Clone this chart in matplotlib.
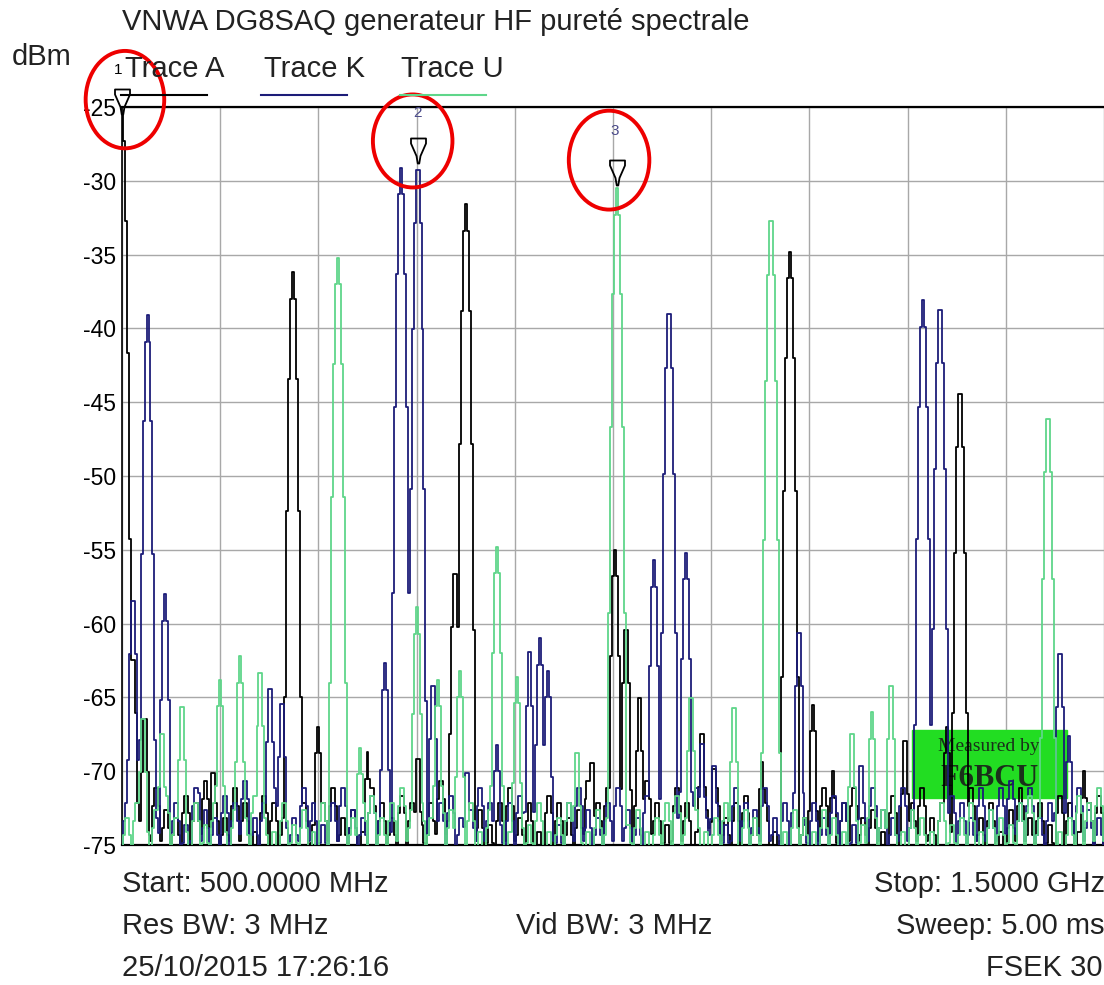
# -*- coding: utf-8 -*-
#
# VNWA DG8SAQ - spectral purity of the HF generator
# spectrum analyser screen (FSEK 30), 500 MHz - 1.5 GHz
###################################################

import numpy as np
import matplotlib
matplotlib.use('Agg')
import matplotlib.pyplot as plt
from matplotlib.path import Path
from matplotlib.patches import Ellipse, Rectangle

plt.rcParams['font.family'] = ['Liberation Sans', 'DejaVu Sans']

ftsize = 21

# tones seen on each trace: frequency (MHz), level (dBm)
freq_A = [500, 511, 523, 593, 674, 700, 750, 801, 839, 850, 979, 1002, 1013, 1027,
          1091, 1103, 1152, 1180, 1204, 1224, 1297, 1340, 1353, 1480]
level_A = [-25.5, -62, -66, -69.7, -36.2, -67, -68.7, -68.7, -56.2, -31.6, -69, -55, -60, -64.6,
           -67, -69.4, -69.4, -34.8, -65.5, -70, -67.5, -67, -44, -70]

freq_K = [511, 526, 544, 577, 651, 663, 768, 784, 801, 817, 851, 882, 915, 926, 934,
          1042, 1057, 1074, 1091, 1103, 1189, 1253, 1316, 1333, 1455, 1464]
level_K = [-58, -39.1, -58, -71, -64, -65, -62.7, -29.1, -28.8, -63.8, -69.7, -68.2, -61.5, -61, -63.2,
           -55.7, -38.6, -55.2, -67.7, -69.2, -60.2, -69.2, -38.1, -38.3, -61.6, -67.6]

freq_U = [521, 541, 561, 600, 620, 641, 720, 742, 800, 822, 844, 882, 902, 963,
          1004, 1079, 1123, 1161, 1243, 1264, 1283, 1443]
level_U = [-66, -67, -65.2, -63.8, -62.2, -62.9, -35.2, -68.4, -58.9, -63.8, -63.2, -54.8, -63.6, -68.3,
           -30.5, -64.6, -65.3, -32.3, -67, -66, -63.8, -45.7]

# noise floor read every 10 MHz (505 ... 1495 MHz)
floor_freq = list(range(505, 1500, 10))
floor_A = [-70, -72, -73, -71, -72.5, -73, -71.5, -72, -70.5, -72,
           -73, -71, -72, -74, -71.5, -72, -73, -70.5, -72, -73.5,
           -72, -71, -73, -72.5, -74, -71, -72, -73, -71.5, -72,
           -73.5, -72, -70.5, -72, -73, -71, -72.5, -73.5, -72, -71,
           -73, -72, -74, -71.5, -72, -73, -72.5, -70.5, -72, -71,
           -72, -73, -71, -70.5, -72, -73.5, -71, -72, -74, -72.5,
           -71, -73, -72, -71.5, -73, -72, -74, -71, -72.5, -73,
           -72, -71, -73.5, -72, -71, -73, -72.5, -74, -71.5, -73,
           -72, -71, -73, -72, -74, -72.5, -71, -73, -72, -74,
           -72.5, -71, -73, -72, -73.5, -71.5, -72, -74, -72, -71.5]
floor_K = [-72, -70.5, -72, -73, -71, -72, -73.5, -71, -72.5, -73,
           -71.5, -72, -70.5, -73, -72, -71, -72.5, -73, -71, -72,
           -73.5, -72, -71, -72.5, -73, -71.5, -72, -74, -71, -72.5,
           -71, -73, -72, -71.5, -73, -72.5, -71, -72, -73.5, -72,
           -71.5, -73, -72, -71, -73.5, -72, -71, -72.5, -73, -72,
           -71, -72.5, -73, -71.5, -72, -71, -73, -72.5, -71, -73,
           -72, -73.5, -71, -72, -72.5, -71, -73, -72, -71.5, -73.5,
           -72, -73, -71.5, -72, -73.5, -72, -71, -72.5, -73, -71,
           -72.5, -71, -72, -73, -71.5, -72, -73, -71, -72.5, -71,
           -70.5, -72, -71, -73, -72, -71.5, -72, -71, -72.5, -73]
floor_U = [-73, -72, -74, -72.5, -71.5, -73, -74, -72, -73.5, -72,
           -74, -72.5, -73, -71.5, -73, -74, -72, -73.5, -72.5, -74,
           -72, -71.5, -72.5, -73, -72, -71.5, -73, -72, -71, -72.5,
           -72, -73, -71.5, -72.5, -73, -72, -74, -72.5, -73, -74,
           -72.5, -73.5, -72, -74, -73, -72, -73.5, -74, -72.5, -73,
           -72, -73.5, -72.5, -74, -73, -72, -71.5, -73, -72.5, -74,
           -73, -72, -74, -72.5, -73, -71.5, -73, -74, -72.5, -73,
           -74, -72.5, -73, -74, -72, -73.5, -74, -72.5, -73, -74,
           -72.5, -73, -74, -72, -73.5, -73, -72, -74, -72.5, -73,
           -73.5, -72, -71.5, -73, -72.5, -74, -73, -71.5, -72, -71]

# markers: frequency, level, label and label position
mark_freq = [500, 801, 1004]
mark_level = [-25.5, -28.8, -30.3]
mark_label = ['1', '2', '3']
label_freq = [496, 801, 1002]
label_level = [-22.5, -25.4, -26.6]

colA = '#000000'
colK = '#1c1c78'
colU = '#5fd68a'

# analyser sweep points, 3 MHz RBW filter shape (in dB)
f = np.linspace(500, 1500, 501)


def trace(tf, tl, fl):
    y = np.full(f.shape, -76.0)
    for f0, l0 in zip(floor_freq, fl):
        y = np.maximum(y, l0 - 0.15 * (f - f0) ** 2)
    for f0, l0 in zip(tf, tl):
        y = np.maximum(y, l0 - 0.45 * (f - f0) ** 2)
    return y


W, H = 1104, 985
fig = plt.figure(figsize=(W / 100, H / 100), dpi=100)
ax = fig.add_axes([122 / W, 1 - 845 / H, 1 - 122 / W, (845 - 107) / H])

ax.plot(f, trace(freq_A, level_A, floor_A), color=colA, lw=1.3, drawstyle='steps-mid', zorder=3)
ax.plot(f, trace(freq_K, level_K, floor_K), color=colK, lw=1.3, drawstyle='steps-mid', zorder=4)
ax.plot(f, trace(freq_U, level_U, floor_U), color=colU, lw=1.3, drawstyle='steps-mid', zorder=5)

ax.set_xlim(500, 1500)
ax.set_ylim(-75, -25)
ax.set_xticks(np.arange(500, 1501, 100))
ax.set_yticks(np.arange(-75, -24, 5))
ax.set_xticklabels([])
ax.set_yticklabels([str(v) for v in range(-75, -24, 5)], fontsize=16.5)
ax.tick_params(length=0, pad=4)
ax.grid(True, color='#a8a8a8', lw=1)
ax.set_axisbelow(True)
for s in ['top', 'bottom']:
    ax.spines[s].set_linewidth(1.6)
ax.spines['left'].set_linewidth(1.2)
ax.spines['right'].set_visible(False)

# green "measured by" box
ax.add_patch(Rectangle((1304, -71.8), 158, 4.6, color='#22dd22', zorder=2))
ax.text(1383, -68.3, 'Measured by', ha='center', va='center', fontsize=14,
        family='Liberation Serif', color='#1a301a', zorder=2)
ax.text(1383, -70.5, 'F6BCU', ha='center', va='center', fontsize=22, fontweight='bold',
        family='Liberation Serif', color='#1a301a', zorder=2)

# marker symbols (tip on the trace)
funnel = Path([(-0.3, 1), (0.3, 1), (0.3, 0.8), (0.08, 0.3), (0.03, 0), (-0.03, 0),
               (-0.08, 0.3), (-0.3, 0.8), (-0.3, 1)],
              [Path.MOVETO] + [Path.LINETO] * 7 + [Path.CLOSEPOLY])
for mf, ml, lab, lf, ll in zip(mark_freq, mark_level, mark_label, label_freq, label_level):
    ax.plot(mf, ml, marker=funnel, markersize=36, markerfacecolor='none',
            markeredgecolor='black', markeredgewidth=1.3, clip_on=False, zorder=6)
    c = 'black' if lab == '1' else '#4a4a8a'
    ax.text(lf, ll, lab, ha='center', va='center', fontsize=11, color=c, clip_on=False)

# red circles
for cx, cy, w, h in [(503, -24.5, 80, 6.6), (796, -27.3, 81, 6.3), (996, -28.6, 82, 6.7)]:
    ax.add_patch(Ellipse((cx, cy), w, h, fill=False, ec='#ee0000', lw=2.8,
                         clip_on=False, zorder=7))

# header texts, in pixels of the screen
def px(x, y, s, **kw):
    fig.text(x / W, 1 - y / H, s, va='center', **kw)

px(122, 22, 'VNWA DG8SAQ generateur HF pureté spectrale', fontsize=21, color='#222222')
px(12, 57, 'dBm', fontsize=ftsize, color='#222222')
px(125, 69, 'Trace A', fontsize=ftsize, color='#222222')
px(264, 69, 'Trace K', fontsize=ftsize, color='#222222')
px(401, 69, 'Trace U', fontsize=ftsize, color='#222222')
for x0, x1, c in [(121, 207, colA), (261, 347, colK), (400, 486, colU)]:
    fig.add_artist(plt.Line2D([x0 / W, x1 / W], [1 - 95 / H, 1 - 95 / H], color=c, lw=1.5))

# footer texts
px(122, 884, 'Start: 500.0000 MHz', fontsize=ftsize, color='#222222')
px(874, 884, 'Stop: 1.5000 GHz', fontsize=ftsize, color='#222222')
px(122, 926, 'Res BW: 3 MHz', fontsize=ftsize, color='#222222')
px(516, 926, 'Vid BW: 3 MHz', fontsize=ftsize, color='#222222')
px(896, 926, 'Sweep: 5.00 ms', fontsize=ftsize, color='#222222')
px(122, 968, '25/10/2015 17:26:16', fontsize=ftsize, color='#222222')
px(986, 968, 'FSEK 30', fontsize=ftsize, color='#222222')

fig.savefig('out.png', dpi=100)
